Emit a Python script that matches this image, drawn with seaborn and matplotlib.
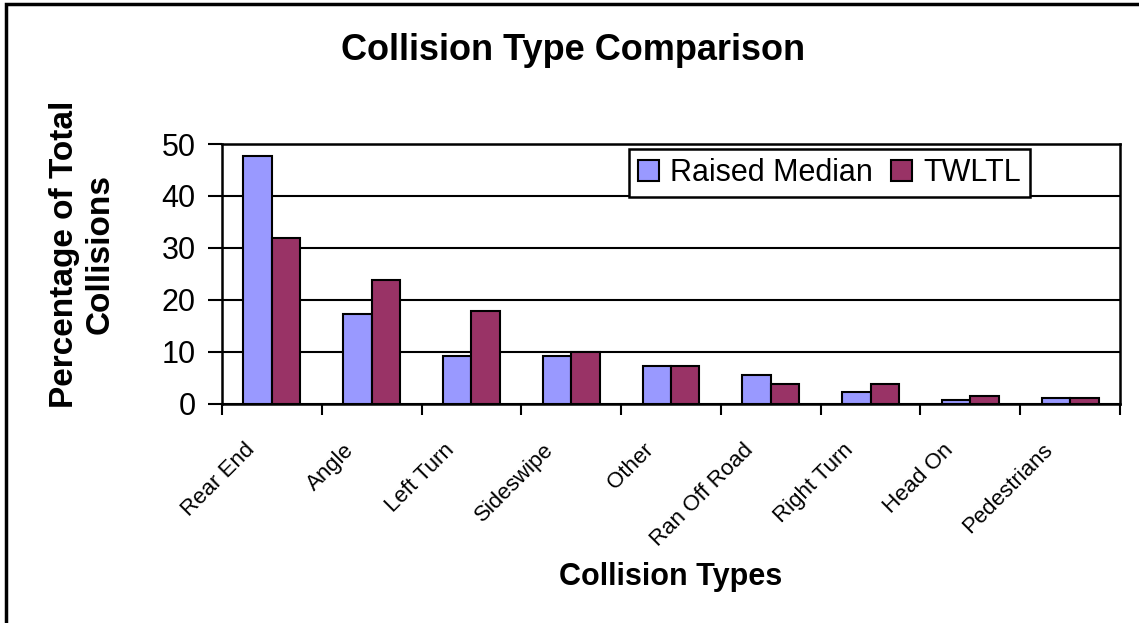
import pandas as pd
import matplotlib.pyplot as plt
import matplotlib.patches as mpatches
import matplotlib.transforms as mtransforms
import seaborn as sns
import numpy as np

categories = ['Rear End', 'Angle', 'Left Turn', 'Sideswipe', 'Other',
              'Ran Off Road', 'Right Turn', 'Head On', 'Pedestrians']
raised_median = [47.6, 17.3, 9.1, 9.1, 7.3, 5.4, 2.3, 0.6, 1.1]
twltl = [31.8, 23.7, 17.9, 9.9, 7.2, 3.7, 3.7, 1.35, 1.1]
series_names = ['Raised Median', 'TWLTL']
y_ticks = [0, 10, 20, 30, 40, 50]

dados = pd.DataFrame({
    'Collision Type': categories * 2,
    'Percentage': raised_median + twltl,
    'Series': [series_names[0]] * len(categories) + [series_names[1]] * len(categories)
})

sns.set_style('white')
plt.rcParams['font.family'] = ['Liberation Sans', 'DejaVu Sans']
plt.rcParams['text.color'] = 'black'
plt.rcParams['axes.labelcolor'] = 'black'
plt.rcParams['xtick.color'] = 'black'
plt.rcParams['ytick.color'] = 'black'

fig = plt.figure(figsize=(11.39, 6.23), dpi=100)
ax = fig.add_axes([222 / 1139, 1 - 403.5 / 623, (1120 - 222) / 1139, (403.5 - 144) / 623])

sns.barplot(data=dados, x='Collision Type', y='Percentage', hue='Series',
            palette=['#9999FF', '#993366'], saturation=1, edgecolor='black',
            linewidth=1.5, width=0.57, gap=0, ax=ax)

# eixo y e grade
ax.set_ylim(0, 50)
ax.set_yticks(y_ticks)
ax.yaxis.grid(True, color='black', linewidth=1.5)
ax.set_axisbelow(True)
ax.set_xlim(-0.5, len(categories) - 0.5)
for s in ax.spines.values():
    s.set_color('black')
    s.set_linewidth(1.8)

ax.tick_params(axis='y', direction='out', length=10, width=1.5, labelsize=22, pad=9, left=True)
ax.set_xticks(range(len(categories)))
ax.set_xticks(np.arange(-0.5, len(categories), 1), minor=True)
ax.tick_params(axis='x', which='major', length=0, pad=10)
ax.tick_params(axis='x', which='minor', direction='out', length=8, width=1.5, bottom=True)
ax.set_xticklabels(categories, rotation=45, ha='right', va='top',
                   rotation_mode='anchor', fontsize=16,
                   family=['Liberation Sans Narrow', 'Liberation Sans'])
offset = mtransforms.ScaledTranslation(-28 / 100, -22 / 100, fig.dpi_scale_trans)
for lbl in ax.get_xticklabels():
    lbl.set_transform(lbl.get_transform() + offset)

ax.set_xlabel('')
ax.set_ylabel('')

# legenda
handles, labels = ax.get_legend_handles_labels()
ax.legend(handles, labels, ncol=2, loc='upper right',
          bbox_to_anchor=(1030 / 1139, 1 - 149 / 623), bbox_transform=fig.transFigure,
          fontsize=22, frameon=True, fancybox=False, edgecolor='black',
          framealpha=1, handlelength=0.7, handleheight=0.7, handletextpad=0.35,
          columnspacing=0.6, borderpad=0.3, borderaxespad=0)
ax.get_legend().get_frame().set_linewidth(1.8)

# titulos
fig.text(573 / 1139, 1 - 50 / 623, 'Collision Type Comparison', fontsize=26,
         fontweight='bold', ha='center', va='center')
fig.text(671 / 1139, 1 - 577 / 623, 'Collision Types', fontsize=22,
         fontweight='bold', ha='center', va='center')
fig.text(82 / 1139, 1 - 254 / 623, 'Percentage of Total\nCollisions', fontsize=24,
         fontweight='bold', ha='center', va='center', rotation=90,
         multialignment='center', linespacing=1.2)

# moldura externa
fig.patches.append(mpatches.Rectangle((6 / 1139, -0.1), 1.2, 1.1 - 4 / 623,
                                      transform=fig.transFigure, fill=False,
                                      edgecolor='black', linewidth=2.5))

plt.savefig('out.png', dpi=100)
